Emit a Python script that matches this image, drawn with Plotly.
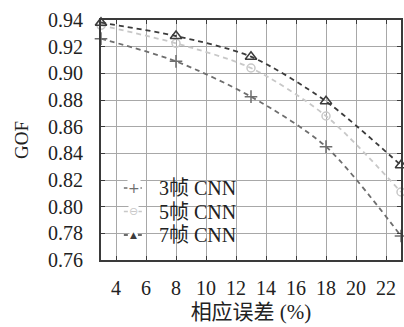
import plotly.graph_objects as go

# Relative error (%) and GOF for each frame-count CNN
error_pct = [3, 8, 13, 18, 23]
gof_3f = [0.926, 0.909, 0.8825, 0.845, 0.778]
gof_5f = [0.936, 0.9225, 0.904, 0.868, 0.811]
gof_7f = [0.938, 0.928, 0.9125, 0.879, 0.831]

series_names = ["3帧 CNN", "5帧 CNN", "7帧 CNN"]
x_ticks = [4, 6, 8, 10, 12, 14, 16, 18, 20, 22]
y_ticks = [0.76, 0.78, 0.80, 0.82, 0.84, 0.86, 0.88, 0.90, 0.92, 0.94]

FONT = "Liberation Serif, Noto Sans CJK SC, serif"
W, H = 404, 327
ML, MR, MT, MB = 101, 1, 20, 67

styles = [
    dict(color="#6e6e6e", symbol="cross-thin-open", size=9, glyph="+", gsize=14),
    dict(color="#c8c8c8", symbol="circle-open", size=8, glyph="⊖", gsize=11),
    dict(color="#3c3c3c", symbol="triangle-up-open", size=10, glyph="▲", gsize=9),
]

fig = go.Figure()
for name, ys, st in zip(series_names, [gof_3f, gof_5f, gof_7f], styles):
    fig.add_trace(go.Scatter(
        x=error_pct, y=ys, name=name, mode="lines+markers",
        line=dict(color=st["color"], width=1.8, dash="5px,4px", shape="spline", smoothing=0.8),
        marker=dict(symbol=st["symbol"], size=st["size"],
                    line=dict(color=st["color"], width=1.5), color=st["color"]),
        cliponaxis=False, showlegend=False,
    ))

# Compact legend box drawn in paper coordinates
pw, ph = W - ML - MR, H - MT - MB
def px_to_paper(px, py):
    return (px - ML) / pw, (H - MB - py) / ph

row_y = [188, 211.5, 235]
for name, st, ry in zip(series_names, styles, row_y):
    x0, y0 = px_to_paper(124, ry)
    x1, _ = px_to_paper(144, ry)
    fig.add_shape(type="line", xref="paper", yref="paper", x0=x0, x1=x1, y0=y0, y1=y0,
                  line=dict(color=st["color"], width=1.4, dash="4px,3px"))
    xm, _ = px_to_paper(134, ry)
    fig.add_annotation(xref="paper", yref="paper", x=xm, y=y0, text=st["glyph"],
                       showarrow=False, xanchor="center", yanchor="middle",
                       bgcolor="white", borderpad=0,
                       font=dict(family="DejaVu Sans", size=st["gsize"], color=st["color"]))
    xt, _ = px_to_paper(157, ry)
    fig.add_annotation(xref="paper", yref="paper", x=xt, y=y0, text=name,
                       showarrow=False, xanchor="left", yanchor="middle",
                       font=dict(family=FONT, size=20, color="#222222"))

axis_common = dict(
    showgrid=True, gridcolor="#a8a8a8", gridwidth=1,
    showline=True, linecolor="#3a3a3a", linewidth=2, mirror="ticks",
    ticks="inside", ticklen=4, tickcolor="#3a3a3a",
    zeroline=False,
    tickfont=dict(family=FONT, size=20, color="#222222"),
)

fig.update_layout(
    width=W, height=H,
    margin=dict(l=ML, r=MR, t=MT, b=MB),
    paper_bgcolor="white", plot_bgcolor="white",
    font=dict(family=FONT, color="#222222"),
    xaxis=dict(axis_common, range=[3, 23], tickvals=x_ticks, ticklabelstandoff=9,
               title=dict(text="相应误差 (%)", font=dict(family=FONT, size=21), standoff=6)),
    yaxis=dict(axis_common, range=[0.76, 0.94], tickvals=y_ticks, tickformat=".2f",
               ticklabelstandoff=12,
               title=dict(text="GOF", font=dict(family=FONT, size=19), standoff=14)),
    showlegend=False,
)

fig.write_html("out.html")
